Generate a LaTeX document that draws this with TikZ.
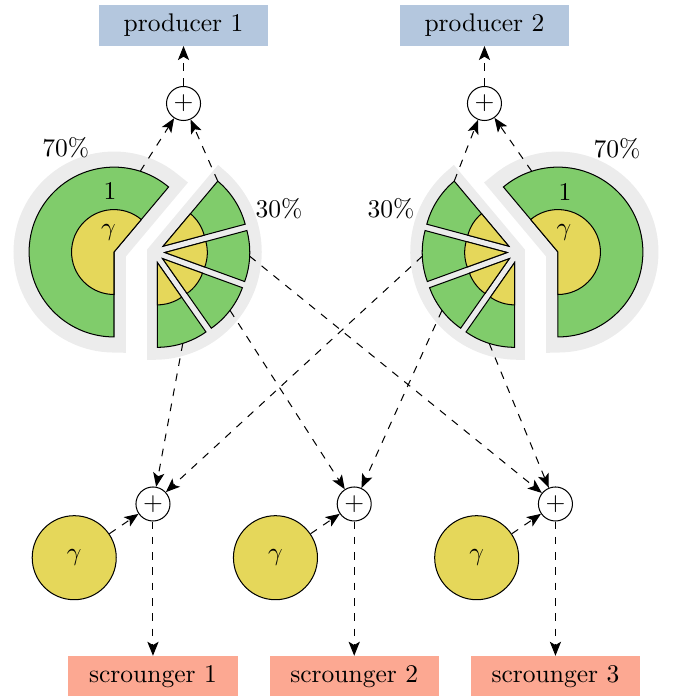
\documentclass[tikz,border=0pt]{standalone}
\usepackage{amsmath}
\usepackage{tikz}
\usetikzlibrary{arrows.meta,positioning,calc}
\definecolor{prodblue}{HTML}{B4C7DE}
\definecolor{scrsalmon}{HTML}{FCA892}
\definecolor{slicegreen}{HTML}{80CC6B}
\definecolor{coreyellow}{HTML}{E5D75A}

\begin{document}
\begin{tikzpicture}[>={Stealth[length=5.5pt,width=4.4pt,inset=1.3pt]},
    flow/.style={->,dashed},
    actor/.style={minimum width=2.33cm,minimum height=0.565cm,inner sep=0pt},
    producer/.style={actor,fill=prodblue},
    scrounger/.style={actor,fill=scrsalmon},
    sum/.style={circle,draw,fill=white,minimum size=0.469cm,inner sep=0pt},
    share/.style={circle,draw,fill=coreyellow,minimum size=1.158cm},
    pieslice/.style={draw,fill=slicegreen},
    piecore/.style={draw,fill=coreyellow},
    pieback/.style={draw=gray!15,fill=gray!15,line join=miter}]
    \useasboundingbox (0,0) rectangle (9.274,-9.591);

    \node[producer] (prod1) at (2.529,-0.345) {producer 1};
    \node[producer] (prod2) at (6.676,-0.345) {producer 2};
    \node[sum, below=0.55cm of prod1] (sumP1) {$+$};
    \node[sum, below=0.55cm of prod2] (sumP2) {$+$};

    \coordinate (BL) at (1.571,-3.473);
    \coordinate (SL) at (2.122,-3.473);
    \coordinate (BR) at (7.689,-3.473);
    \coordinate (SR) at (7.138,-3.473);

    % grey backs
    \draw[pieback,line width=0.33cm] (BL) -- ++(50:1.22) arc[start angle=50,end angle=270,radius=1.22] -- cycle;
    \draw[pieback,line width=0.19cm] (SL) -- ++(-90:1.39) arc[start angle=-90,end angle=50,radius=1.39] -- cycle;
    \draw[pieback,line width=0.33cm] (BR) -- ++(-90:1.22) arc[start angle=-90,end angle=130,radius=1.22] -- cycle;
    \draw[pieback,line width=0.19cm] (SR) -- ++(130:1.39) arc[start angle=130,end angle=270,radius=1.39] -- cycle;

    % 70% pieces
    \draw[pieslice] (BL) -- ++(50:1.17) arc[start angle=50,end angle=270,radius=1.17] -- cycle;
    \draw[piecore] (BL) -- ++(50:0.585) arc[start angle=50,end angle=270,radius=0.585] -- cycle;
    \draw[pieslice] (BR) -- ++(-90:1.17) arc[start angle=-90,end angle=130,radius=1.17] -- cycle;
    \draw[piecore] (BR) -- ++(-90:0.585) arc[start angle=-90,end angle=130,radius=0.585] -- cycle;
    \coordinate (blt) at ($(BL)+(72:1.17)$);
    \coordinate (brt) at ($(BR)+(108:1.17)$);

    % 30% pieces
    \foreach \a/\b/\n in {15/50/1,-20/15/2,-55/-20/3,-90/-55/4} {
        \path (SL) ++({(\a+\b)/2}:0.15) coordinate (sl\n) ++({(\a+\b)/2}:1.17) coordinate (slm\n);
        \draw[pieslice] (sl\n) -- ++(\a:1.17) arc[start angle=\a,end angle=\b,radius=1.17] -- cycle;
        \draw[piecore] (sl\n) -- ++(\a:0.585) arc[start angle=\a,end angle=\b,radius=0.585] -- cycle;
    }
    \foreach \a/\b/\n in {130/165/1,165/200/2,200/235/3,235/270/4} {
        \path (SR) ++({(\a+\b)/2}:0.15) coordinate (sr\n) ++({(\a+\b)/2}:1.17) coordinate (srm\n);
        \draw[pieslice] (sr\n) -- ++(\a:1.17) arc[start angle=\a,end angle=\b,radius=1.17] -- cycle;
        \draw[piecore] (sr\n) -- ++(\a:0.585) arc[start angle=\a,end angle=\b,radius=0.585] -- cycle;
    }
    \coordinate (slc) at ($(sl1)+(50:1.17)$);
    \coordinate (src) at ($(sr1)+(130:1.17)$);

    \node (pctl1) at (0.905,-2.039) {70\%};
    \node (pctl2) at (3.845,-2.880) {30\%};
    \node (pctr1) at (8.502,-2.053) {70\%};
    \node (pctr2) at (5.388,-2.880) {30\%};
    \node (onel) at (1.516,-2.632) {$1$};
    \node (gaml) at (1.495,-3.197) {$\gamma$};
    \node (oner) at (7.786,-2.646) {$1$};
    \node (gamr) at (7.772,-3.197) {$\gamma$};

    \node[sum] (sum1) at (2.108,-6.945) {$+$};
    \node[sum, right=2.29cm of sum1] (sum2) {$+$};
    \node[sum, right=2.29cm of sum2] (sum3) {$+$};
    \node[share, below left=0.155cm and 0.5cm of sum1] (share1) {$\gamma$};
    \node[share, below left=0.155cm and 0.5cm of sum2] (share2) {$\gamma$};
    \node[share, below left=0.155cm and 0.5cm of sum3] (share3) {$\gamma$};
    \node[scrounger, below=1.85cm of sum1] (scr1) {scrounger 1};
    \node[scrounger, below=1.85cm of sum2] (scr2) {scrounger 2};
    \node[scrounger, below=1.85cm of sum3] (scr3) {scrounger 3};

    \path[flow] (sumP1) edge (prod1)
          (sumP2) edge (prod2)
          (blt) edge (sumP1)
          (slc) edge (sumP1)
          (brt) edge (sumP2)
          (src) edge (sumP2)
          (slm2) edge (sum3)
          (slm3) edge (sum2)
          (slm4) edge (sum1)
          (srm2) edge (sum1)
          (srm3) edge (sum2)
          (srm4) edge (sum3)
          (share1) edge (sum1)
          (share2) edge (sum2)
          (share3) edge (sum3)
          (sum1) edge (scr1)
          (sum2) edge (scr2)
          (sum3) edge (scr3);
\end{tikzpicture}
\end{document}
